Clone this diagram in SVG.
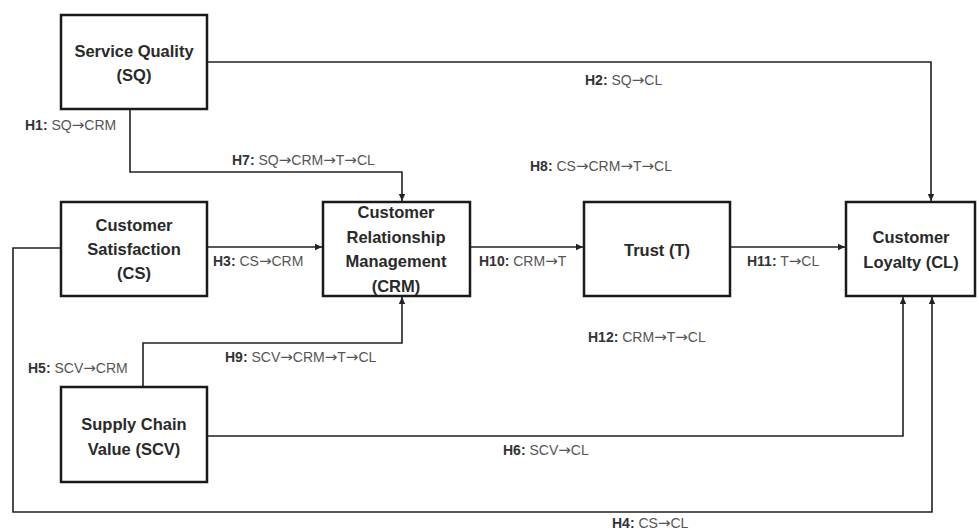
<svg xmlns="http://www.w3.org/2000/svg" width="979" height="531" viewBox="0 0 979 531">
<style>
.box{fill:#fff;stroke:#1a1a1a;stroke-width:2.5}
.nt{font-family:"Liberation Sans",Arial,sans-serif;font-weight:bold;font-size:16.5px;fill:#2a2a2a;text-anchor:middle}
.ln{fill:none;stroke:#222;stroke-width:1.6}
.lb{font-family:"Liberation Sans",Arial,sans-serif;font-size:14px;fill:#555}
.lb tspan.h{font-weight:bold;fill:#333}
.lb tspan.a{font-family:"DejaVu Sans",sans-serif;font-size:15px}
</style>
<defs>
<marker id="ah" markerWidth="8" markerHeight="8" refX="7" refY="4" orient="auto" markerUnits="userSpaceOnUse">
<path d="M0,0.8 L7,4 L0,7.2 Z" fill="#222"/>
</marker>
</defs>
<rect width="979" height="531" fill="#fff"/>
<g id="connectors">
<path class="ln" d="M207,62 H931 V201" marker-end="url(#ah)"/>
<path class="ln" d="M130,109 V172 H402 V201" marker-end="url(#ah)"/>
<path class="ln" d="M207,247 H322" marker-end="url(#ah)"/>
<path class="ln" d="M470,247 H583" marker-end="url(#ah)"/>
<path class="ln" d="M730,247 H845" marker-end="url(#ah)"/>
<path class="ln" d="M143,387 V343 H402 V297" marker-end="url(#ah)"/>
<path class="ln" d="M207,436 H903 V297" marker-end="url(#ah)"/>
<path class="ln" d="M61,248 H13 V512 H932 V297" marker-end="url(#ah)"/>
</g>
<g id="labels">
<text class="lb" x="25" y="130"><tspan class="h">H1:</tspan> SQ<tspan class="a">→</tspan>CRM</text>
<text class="lb" x="585" y="85"><tspan class="h">H2:</tspan> SQ<tspan class="a">→</tspan>CL</text>
<text class="lb" x="232" y="165"><tspan class="h">H7:</tspan> SQ<tspan class="a">→</tspan>CRM<tspan class="a">→</tspan>T<tspan class="a">→</tspan>CL</text>
<text class="lb" x="530" y="171"><tspan class="h">H8:</tspan> CS<tspan class="a">→</tspan>CRM<tspan class="a">→</tspan>T<tspan class="a">→</tspan>CL</text>
<text class="lb" x="213" y="266"><tspan class="h">H3:</tspan> CS<tspan class="a">→</tspan>CRM</text>
<text class="lb" x="479" y="266"><tspan class="h">H10:</tspan> CRM<tspan class="a">→</tspan>T</text>
<text class="lb" x="747" y="266"><tspan class="h">H11:</tspan> T<tspan class="a">→</tspan>CL</text>
<text class="lb" x="588" y="342"><tspan class="h">H12:</tspan> CRM<tspan class="a">→</tspan>T<tspan class="a">→</tspan>CL</text>
<text class="lb" x="225" y="362"><tspan class="h">H9:</tspan> SCV<tspan class="a">→</tspan>CRM<tspan class="a">→</tspan>T<tspan class="a">→</tspan>CL</text>
<text class="lb" x="28" y="373"><tspan class="h">H5:</tspan> SCV<tspan class="a">→</tspan>CRM</text>
<text class="lb" x="503" y="455"><tspan class="h">H6:</tspan> SCV<tspan class="a">→</tspan>CL</text>
<text class="lb" x="612" y="528"><tspan class="h">H4:</tspan> CS<tspan class="a">→</tspan>CL</text>
</g>
<g id="SQ">
<rect class="box" x="61" y="15" width="146" height="94"/>
<text class="nt" x="134" y="57">Service Quality</text>
<text class="nt" x="134" y="81">(SQ)</text>
</g>
<g id="CS">
<rect class="box" x="61" y="202" width="146" height="94"/>
<text class="nt" x="134" y="231">Customer</text>
<text class="nt" x="134" y="255">Satisfaction</text>
<text class="nt" x="134" y="279">(CS)</text>
</g>
<g id="CRM">
<rect class="box" x="323" y="202" width="147" height="94"/>
<text class="nt" x="396" y="218">Customer</text>
<text class="nt" x="396" y="243">Relationship</text>
<text class="nt" x="396" y="267">Management</text>
<text class="nt" x="396" y="292">(CRM)</text>
</g>
<g id="T">
<rect class="box" x="584" y="202" width="146" height="94"/>
<text class="nt" x="657" y="256">Trust (T)</text>
</g>
<g id="CL">
<rect class="box" x="846" y="202" width="129" height="94"/>
<text class="nt" x="911" y="243">Customer</text>
<text class="nt" x="911" y="268">Loyalty (CL)</text>
</g>
<g id="SCV">
<rect class="box" x="61" y="387" width="146" height="95"/>
<text class="nt" x="134" y="430">Supply Chain</text>
<text class="nt" x="134" y="455">Value (SCV)</text>
</g>
</svg>
